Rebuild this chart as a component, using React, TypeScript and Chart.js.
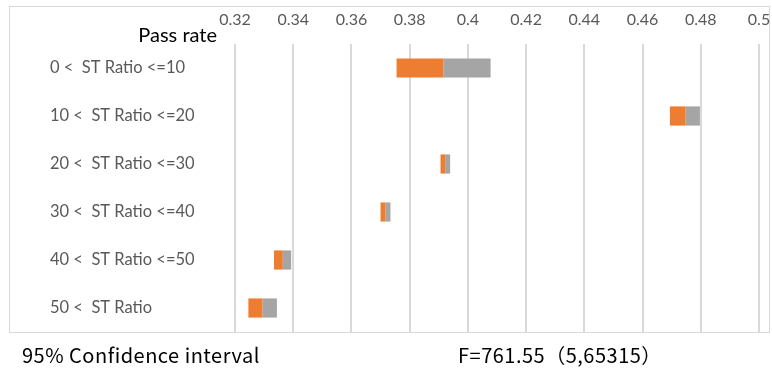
import React, { useEffect, useRef } from "react";
import { Chart, registerables } from "chart.js";

Chart.register(...registerables);

const categories = [
  "0 <  ST Ratio <=10",
  "10 <  ST Ratio <=20",
  "20 <  ST Ratio <=30",
  "30 <  ST Ratio <=40",
  "40 <  ST Ratio <=50",
  "50 <  ST Ratio",
];
const lowerBound = [0.3755, 0.4694, 0.3906, 0.37, 0.3334, 0.3246];
const passRate = [0.3916, 0.4748, 0.3922, 0.3717, 0.3364, 0.3294];
const upperBound = [0.4078, 0.4797, 0.3939, 0.3734, 0.3393, 0.3344];
const xMin = 0.32;
const xMax = 0.5;
const xStep = 0.02;
const axisTitle = "Pass rate";
const footLeft = "95% Confidence interval";
const footRight = "F=761.55（5,65315）";

export default function App() {
  const ref = useRef<HTMLCanvasElement | null>(null);

  useEffect(() => {
    if (!ref.current) return;
    const chart = new Chart(ref.current, {
      type: "bar",
      data: {
        labels: categories,
        datasets: [
          {
            label: "Lower",
            data: categories.map((_, i) => [lowerBound[i], passRate[i]]) as any,
            backgroundColor: "#ED7D31",
            grouped: false,
            barPercentage: 0.4,
            categoryPercentage: 1,
          } as any,
          {
            label: "Upper",
            data: categories.map((_, i) => [passRate[i], upperBound[i]]) as any,
            backgroundColor: "#A5A5A5",
            grouped: false,
            barPercentage: 0.4,
            categoryPercentage: 1,
          } as any,
        ],
      },
      options: {
        indexAxis: "y",
        responsive: false,
        animation: false,
        layout: { padding: { top: 11, left: 50, right: 13, bottom: 40 } },
        plugins: { legend: { display: false }, tooltip: { enabled: false }, title: { display: false } },
        scales: {
          x: {
            position: "top",
            min: xMin,
            max: xMax,
            border: { display: false },
            grid: { color: "#d9d9d9", lineWidth: 2, drawTicks: false },
            ticks: {
              stepSize: xStep,
              padding: 15,
              color: "#595959",
              font: { family: "Lato", size: 16 },
              callback: (v: any) => String(Number(Number(v).toFixed(4))),
            },
            afterFit: (s: any) => {
              s.height = 33;
              s.paddingLeft = 0;
              s.paddingRight = 0;
            },
          },
          y: {
            border: { display: false },
            grid: { display: false, drawTicks: false },
            ticks: {
              crossAlign: "far",
              color: "#595959",
              font: { family: "Lato", size: 16.5 },
            },
            afterFit: (s: any) => {
              s.width = 185;
              s.paddingTop = 0;
              s.paddingBottom = 0;
            },
          },
        },
      },
    });
    return () => chart.destroy();
  }, []);

  const footStyle: React.CSSProperties = {
    position: "absolute",
    top: 342,
    fontFamily: "'Noto Sans CJK JP'",
    fontSize: 20,
    letterSpacing: 0.5,
    color: "#000",
    whiteSpace: "pre",
    lineHeight: "26px",
  };

  return (
    <div style={{ position: "absolute", left: 0, top: 0, width: 772, height: 372, background: "#fff" }}>
      <div
        style={{
          position: "absolute",
          left: 9,
          top: 6,
          width: 761,
          height: 327,
          border: "1px solid #d9d9d9",
          boxSizing: "border-box",
        }}
      />
      <canvas ref={ref} width={772} height={372} style={{ position: "absolute", left: 0, top: 0, display: "block" }} />
      <div
        style={{
          position: "absolute",
          right: 772 - 217,
          top: 22,
          fontFamily: "Lato",
          fontSize: 20,
          color: "#000",
          whiteSpace: "pre",
          lineHeight: "24px",
        }}
      >
        {axisTitle}
      </div>
      <div style={{ ...footStyle, left: 22 }}>{footLeft}</div>
      <div style={{ ...footStyle, left: 458 }}>{footRight}</div>
    </div>
  );
}
